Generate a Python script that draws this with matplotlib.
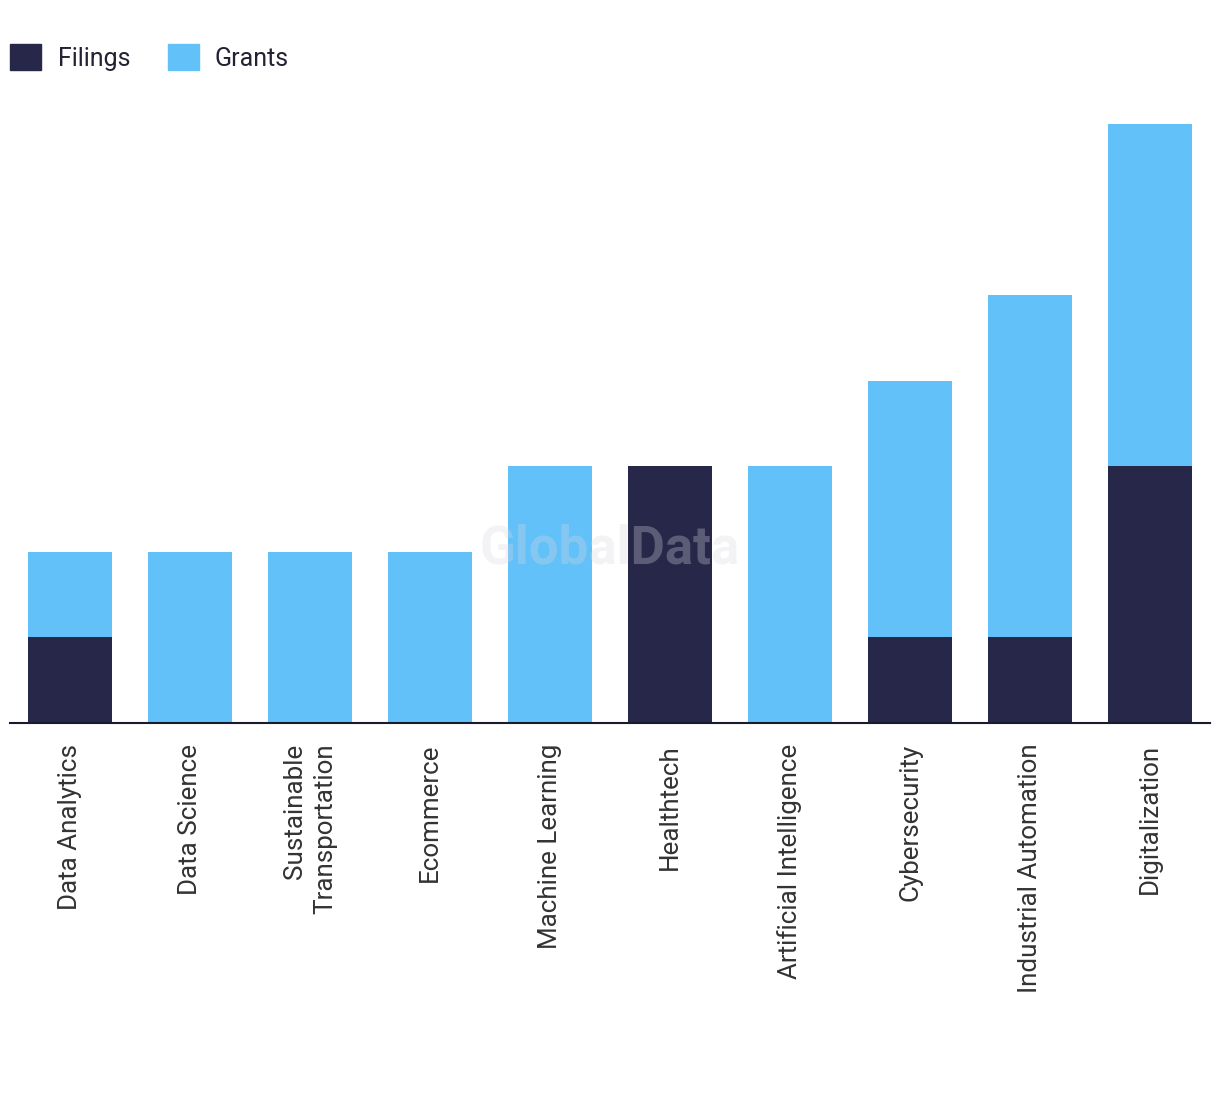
import numpy as np
import matplotlib.pyplot as plt
from matplotlib.patches import Patch

plt.rcParams['font.family'] = ['Roboto', 'DejaVu Sans']

categories = ['Data Analytics', 'Data Science', 'Sustainable\nTransportation', 'Ecommerce',
              'Machine Learning', 'Healthtech', 'Artificial Intelligence', 'Cybersecurity',
              'Industrial Automation', 'Digitalization']
filings = [1, 0, 0, 0, 0, 3, 0, 1, 1, 3]
grants = [1, 2, 2, 2, 3, 0, 3, 3, 4, 4]

dark = '#27274A'
light = '#62C1F8'

fig = plt.figure(figsize=(12.2, 10.94), dpi=100)
ax = fig.add_axes([10 / 1220, (1094 - 723) / 1094, 1200 / 1220, (723 - 124) / 1094])

x = np.arange(len(categories))
ax.bar(x, filings, width=0.7, color=dark)
ax.bar(x, grants, width=0.7, bottom=filings, color=light)

ax.set_xlim(-0.5, len(categories) - 0.5)
ax.set_ylim(0, 7)
ax.set_yticks([])
for s in ['top', 'right', 'left']:
    ax.spines[s].set_visible(False)
ax.spines['bottom'].set_color('#1a1a2e')
ax.spines['bottom'].set_linewidth(1.5)

ax.set_xticks(x)
ax.set_xticklabels(categories, rotation=90, fontsize=18.7, color='#333333',
                   va='top', ha='center', multialignment='right', linespacing=1.3)
ax.tick_params(axis='x', length=0, pad=15)

# watermark
ax.text(0.5, 0.29, 'GlobalData', transform=ax.transAxes, ha='center', va='center',
        fontsize=38, fontweight='bold', color='#d8d8e0', alpha=0.3, zorder=5)

handles = [Patch(color=dark, label='Filings'), Patch(color=light, label='Grants')]
fig.legend(handles=handles, loc='upper left', bbox_to_anchor=(10 / 1220, 1 - 44 / 1094), ncol=2,
           frameon=False, fontsize=18, handlelength=1.25, handleheight=1.25,
           handletextpad=0.65, columnspacing=1.5, labelcolor='#222233',
           borderaxespad=0, borderpad=0)

fig.savefig('out.png', dpi=100)
